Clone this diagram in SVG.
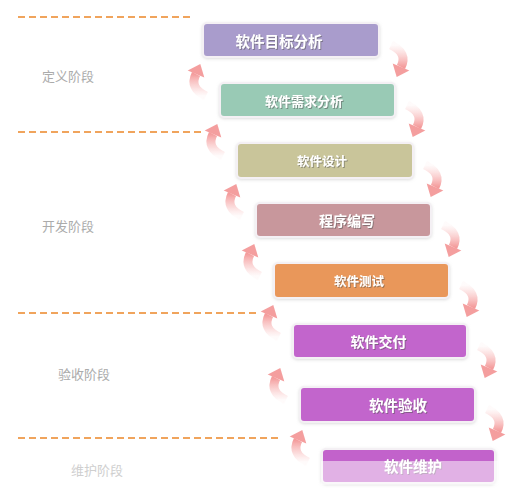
<svg xmlns="http://www.w3.org/2000/svg" width="524" height="500" viewBox="0 0 524 500">
<style>
.dash{stroke:#f0a45c;stroke-width:2;stroke-dasharray:7 4;fill:none}
.stage{font-family:"Noto Sans CJK SC","Noto Sans CJK JP",sans-serif;font-size:13px;fill:#ababab;dominant-baseline:central}
.box{stroke:#f4f0f4;stroke-width:2}
.lbl{font-family:"Noto Sans CJK SC","Noto Sans CJK JP",sans-serif;font-weight:bold;fill:#ffffff;text-anchor:middle;dominant-baseline:central;filter:url(#sh)}
</style>
<defs>
<filter id="sh" x="-20%" y="-40%" width="140%" height="180%">
<feDropShadow dx="1" dy="1" stdDeviation="0.6" flood-color="#555" flood-opacity="0.55"/>
</filter>
<filter id="glow" x="-10%" y="-30%" width="120%" height="160%">
<feDropShadow dx="0" dy="1" stdDeviation="1.5" flood-color="#bbb" flood-opacity="0.5"/>
</filter>
<filter id="soft" x="-30%" y="-30%" width="160%" height="160%">
<feGaussianBlur stdDeviation="0.6"/>
</filter>
<linearGradient id="ag" x1="0" y1="0" x2="0" y2="1">
<stop offset="0" stop-color="#f7b0b0" stop-opacity="0.05"/>
<stop offset="1" stop-color="#f28a8a" stop-opacity="0.85"/>
</linearGradient>
<g id="arrow" filter="url(#soft)">
<path d="M0,0 Q17,8 10,22" fill="none" stroke="url(#ag)" stroke-width="9"/>
<polygon points="18.3,25.5 1.7,18.5 5.7,32.1" fill="#f28d8d" fill-opacity="0.85"/>
</g>
</defs>

<g id="phases">
<line class="dash" x1="18" y1="17" x2="192" y2="17"/>
<line class="dash" x1="18" y1="132" x2="202" y2="132"/>
<line class="dash" x1="18" y1="313" x2="256" y2="313"/>
<line class="dash" x1="18" y1="438" x2="282" y2="438"/>
<text class="stage" x="42" y="75">定义阶段</text>
<text class="stage" x="42" y="225">开发阶段</text>
<text class="stage" x="58" y="373">验收阶段</text>
<text class="stage" x="71" y="469" style="fill:#cfcfcf">维护阶段</text>
</g>

<g id="connectors">
<use href="#arrow" transform="translate(391,45)"/>
<use href="#arrow" transform="translate(407,105)"/>
<use href="#arrow" transform="translate(425,165)"/>
<use href="#arrow" transform="translate(443,225)"/>
<use href="#arrow" transform="translate(461,285)"/>
<use href="#arrow" transform="translate(479,346)"/>
<use href="#arrow" transform="translate(487,409)"/>
<use href="#arrow" transform="translate(206,96) rotate(180)"/>
<use href="#arrow" transform="translate(223,156) rotate(180)"/>
<use href="#arrow" transform="translate(242,216) rotate(180)"/>
<use href="#arrow" transform="translate(260,276) rotate(180)"/>
<use href="#arrow" transform="translate(279,337) rotate(180)"/>
<use href="#arrow" transform="translate(286,400) rotate(180)"/>
<use href="#arrow" transform="translate(308,462) rotate(180)"/>
</g>

<g id="n1" filter="url(#glow)">
<rect class="box" x="203" y="23" width="176" height="34" rx="4" fill="#a99ccc"/>
<text class="lbl" x="279" y="40" font-size="14.5">软件目标分析</text>
</g>
<g id="n2" filter="url(#glow)">
<rect class="box" x="220" y="83" width="175" height="34" rx="4" fill="#99cab5"/>
<text class="lbl" x="304" y="100" font-size="13">软件需求分析</text>
</g>
<g id="n3" filter="url(#glow)">
<rect class="box" x="237" y="143" width="176" height="35" rx="4" fill="#c9c59a"/>
<text class="lbl" x="322" y="160.5" font-size="12.5">软件设计</text>
</g>
<g id="n4" filter="url(#glow)">
<rect class="box" x="256" y="203" width="175" height="34" rx="4" fill="#c8979c"/>
<text class="lbl" x="347" y="220" font-size="14">程序编写</text>
</g>
<g id="n5" filter="url(#glow)">
<rect class="box" x="274" y="263" width="175" height="35" rx="4" fill="#e9975a"/>
<text class="lbl" x="359" y="280.5" font-size="12.5">软件测试</text>
</g>
<g id="n6" filter="url(#glow)">
<rect class="box" x="293" y="324" width="174" height="34" rx="4" fill="#c265cc"/>
<text class="lbl" x="378.5" y="341" font-size="14">软件交付</text>
</g>
<g id="n7" filter="url(#glow)">
<rect class="box" x="300" y="387" width="175" height="35" rx="4" fill="#c265cc"/>
<text class="lbl" x="398" y="404.5" font-size="14.5">软件验收</text>
</g>
<g id="n8" filter="url(#glow)">
<rect class="box" x="322" y="449" width="173" height="34" rx="4" fill="#c262cb"/>
<text class="lbl" x="413" y="465" font-size="14.5">软件维护</text>
</g>
<rect x="321" y="461" width="177" height="24" fill="#ffffff" fill-opacity="0.5"/>
</svg>
